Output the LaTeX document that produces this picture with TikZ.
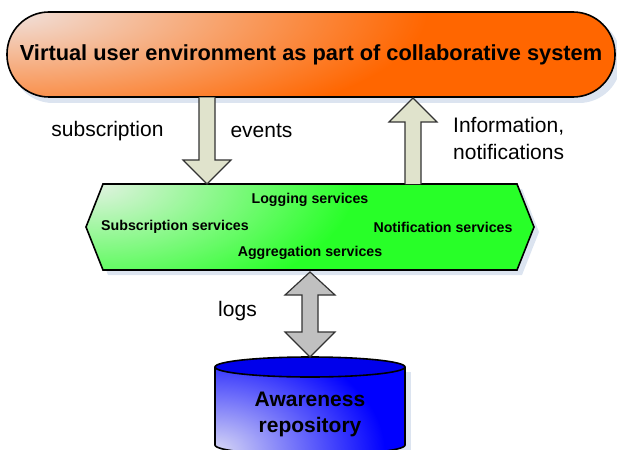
\documentclass[tikz,border=0pt]{standalone}
\usepackage{fontspec}
\setmainfont{Liberation Sans}
\usetikzlibrary{calc}
\definecolor{orangemain}{RGB}{255,102,0}
\definecolor{orangelight}{RGB}{240,226,222}
\definecolor{greenmain}{RGB}{40,255,40}
\definecolor{greenlight}{RGB}{226,242,226}
\definecolor{bluemain}{RGB}{0,0,255}
\definecolor{bluelight}{RGB}{218,218,245}
\definecolor{arrowfill}{RGB}{224,227,204}
\definecolor{grayarrow}{RGB}{192,192,192}
\definecolor{shadowc}{RGB}{220,228,240}
\tikzset{
  outline/.style={draw=black, line width=1.6pt, line join=miter},
  topbox/.style={outline, rounded corners=42pt, minimum width=608pt, minimum height=85pt,
    font=\fontsize{21.8}{26}\selectfont\bfseries, inner sep=0pt},
  svc/.style={font=\fontsize{14.2}{17}\selectfont\bfseries, inner sep=0pt},
  lbl/.style={font=\fontsize{21}{27}\selectfont, inner sep=0pt},
  blockarrow/.style={draw=black!80, line width=1.2pt, fill=arrowfill, line join=miter},
  grayblock/.style={draw=black!80, line width=1.2pt, fill=grayarrow, line join=miter},
  shadowfill/.style={fill=shadowc},
}
\begin{document}
\begin{tikzpicture}[x=1pt,y=1pt]
\useasboundingbox (0,0) rectangle (617,-449);
\clip (0,0) rectangle (617,-449);
% shadows
\fill[shadowfill, rounded corners=42pt] (11,-17) rectangle (621,-103);
\fill[shadowfill] (91,-232) -- (108,-189) -- (522,-189) -- (539,-232) -- (522,-275) -- (108,-275) -- cycle;
\fill[shadowfill] (220,-372) -- (220,-460) -- (411,-460) -- (411,-372) -- cycle;
% top box fill with corner glow
\begin{scope}
  \clip[rounded corners=42pt] (7,-12) rectangle (615,-97);
  \fill[orangemain] (7,-12) rectangle (615,-97);
  \shade[inner color=orangelight, outer color=orangemain] (7,-12) ellipse [x radius=420pt, y radius=130pt];
\end{scope}
\node[topbox] (top) at (311,-54.5) {Virtual user environment as part of collaborative system};
% hexagon
\begin{scope}
  \clip (86,-227) -- (103,-184) -- (517,-184) -- (534,-227) -- (517,-270) -- (103,-270) -- cycle;
  \fill[greenmain] (80,-180) rectangle (540,-275);
  \shade[inner color=greenlight, outer color=greenmain] (95,-184) ellipse [x radius=260pt, y radius=125pt];
\end{scope}
\draw[outline]
  (86,-227) coordinate (hexW) -- (103,-184) -- (517,-184) -- (534,-227) coordinate (hexE) -- (517,-270) -- (103,-270) -- cycle;
\coordinate (hexTop1) at (207,-184);
\coordinate (hexTop2) at (413,-184);
\coordinate (hexBot) at (310,-270);
\node[svc] (log) at (310,-200) {Logging services};
\node[svc] (sub) at (175,-227) {Subscription services};
\node[svc] (noti) at (443,-227) {Notification services};
\node[svc] (agg) at (310,-253) {Aggregation services};
% cylinder
\coordinate (cylTop) at (310,-357);
\begin{scope}
  \clip (215,-367) -- (215,-445) arc[start angle=180, end angle=360, x radius=95pt, y radius=10pt] -- (405,-367) -- cycle;
  \fill[bluemain] (210,-360) rectangle (410,-460);
  \shade[inner color=bluelight, outer color=bluemain] (215,-452) ellipse [x radius=170pt, y radius=115pt];
\end{scope}
\draw[outline]
  (215,-367) -- (215,-445) arc[start angle=180, end angle=360, x radius=95pt, y radius=10pt] -- (405,-367);
\draw[outline, fill=bluemain!92!black] (310,-367) ellipse [x radius=95pt, y radius=10pt];
\node[font=\fontsize{21}{26}\selectfont\bfseries, align=center, inner sep=0pt] (repo) at (310,-414) {Awareness\\repository};
% down arrow (subscription / events)
\draw[blockarrow] (199,-97.5) -- (199,-160) -- (183,-160) -- (hexTop1) -- (231,-160) -- (215,-160) -- (215,-97.5);
% up arrow (information)
\draw[blockarrow] (405,-184) -- (405,-122) -- (389,-122) -- (413,-98) -- (437,-122) -- (421,-122) -- (421,-184);
% double arrow (logs)
\draw[grayblock] (hexBot) ++(0,-2) -- (335,-295) -- (318,-295) -- (318,-332) -- (335,-332) -- (cylTop) -- (285,-332) -- (302,-332) -- (302,-295) -- (285,-295) -- cycle;
% labels
\node[lbl] (lsub) at (107.5,-131) {subscription};
\node[lbl] (lev) at (261.5,-131) {events};
\node[lbl, align=left, anchor=north west] (linfo) at (453,-117) {Information,\\notifications};
\node[lbl] (llogs) at (237.5,-311) {logs};
\end{tikzpicture}
\end{document}
